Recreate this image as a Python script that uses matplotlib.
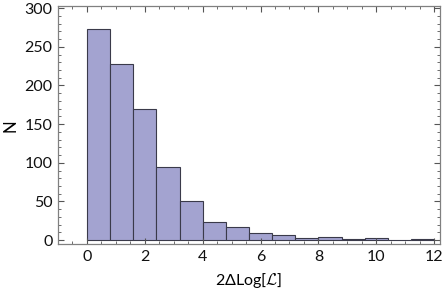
import numpy as np
import matplotlib
matplotlib.use('Agg')
import matplotlib.pyplot as plt
from matplotlib.ticker import MultipleLocator

plt.rcParams['font.family'] = ['Lato', 'DejaVu Sans']
plt.rcParams['mathtext.fontset'] = 'cm'

# histogram bins (width 0.8) and counts
bin_edges = [0.0, 0.8, 1.6, 2.4, 3.2, 4.0, 4.8, 5.6, 6.4, 7.2, 8.0, 8.8, 9.6, 10.4, 11.2, 12.0]
counts = [273, 228, 170, 95, 51, 23, 17, 9, 7, 3, 4, 2, 3, 0, 2]

x_label = '2\u0394Log[$\\mathcal{L}$]'
y_label = 'N'

fig = plt.figure(figsize=(4.43, 2.98), dpi=100)
ax = fig.add_axes([0.131, 0.180, 0.862, 0.799])

edges = np.array(bin_edges)
ax.bar(edges[:-1], counts, width=np.diff(edges), align='edge',
       color='#a3a3d0', edgecolor='#3a3a4a', linewidth=0.8)

ax.set_xlim(-1, 12.2)
ax.set_ylim(-5.5, 302.5)
ax.xaxis.set_major_locator(MultipleLocator(2))
ax.xaxis.set_minor_locator(MultipleLocator(0.5))
ax.yaxis.set_major_locator(MultipleLocator(50))
ax.yaxis.set_minor_locator(MultipleLocator(10))

for side in ax.spines.values():
    side.set_color('#808080')
    side.set_linewidth(0.9)

ax.tick_params(which='both', direction='in', top=True, right=True,
               color='#555555', labelsize=11.5, labelcolor='#111111')
ax.tick_params(which='major', length=4, width=0.8, pad=4)
ax.tick_params(which='minor', length=2, width=0.6)

ax.set_xlabel(x_label, fontsize=11.5, labelpad=5)
ax.set_ylabel(y_label, fontsize=12, labelpad=4)

fig.savefig('out.png', dpi=100)
